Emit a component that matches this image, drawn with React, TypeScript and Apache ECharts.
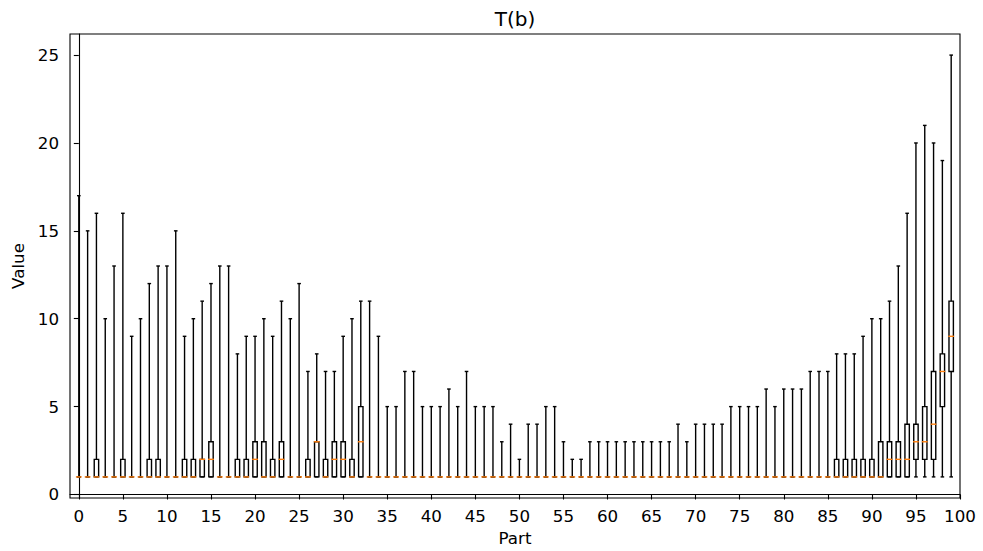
import React, { useEffect, useRef } from "react";
import * as echarts from "echarts";

const title = "T(b)";
const xName = "Part";
const yName = "Value";

const parts: number[] = [
  0, 1, 2, 3, 4, 5, 6, 7, 8, 9, 10, 11, 12, 13, 14, 15, 16, 17, 18, 19,
  20, 21, 22, 23, 24, 25, 26, 27, 28, 29, 30, 31, 32, 33, 34, 35, 36, 37, 38, 39,
  40, 41, 42, 43, 44, 45, 46, 47, 48, 49, 50, 51, 52, 53, 54, 55, 56, 57, 58, 59,
  60, 61, 62, 63, 64, 65, 66, 67, 68, 69, 70, 71, 72, 73, 74, 75, 76, 77, 78, 79,
  80, 81, 82, 83, 84, 85, 86, 87, 88, 89, 90, 91, 92, 93, 94, 95, 96, 97, 98, 99,
];

const whiskerLow: number[] = [
  1, 1, 1, 1, 1, 1, 1, 1, 1, 1, 1, 1, 1, 1, 1, 1, 1, 1, 1, 1,
  1, 1, 1, 1, 1, 1, 1, 1, 1, 1, 1, 1, 1, 1, 1, 1, 1, 1, 1, 1,
  1, 1, 1, 1, 1, 1, 1, 1, 1, 1, 1, 1, 1, 1, 1, 1, 1, 1, 1, 1,
  1, 1, 1, 1, 1, 1, 1, 1, 1, 1, 1, 1, 1, 1, 1, 1, 1, 1, 1, 1,
  1, 1, 1, 1, 1, 1, 1, 1, 1, 1, 1, 1, 1, 1, 1, 1, 1, 1, 1, 1,
];

const q1: number[] = [
  1, 1, 1, 1, 1, 1, 1, 1, 1, 1, 1, 1, 1, 1, 1, 1, 1, 1, 1, 1,
  1, 1, 1, 1, 1, 1, 1, 1, 1, 1, 1, 1, 1, 1, 1, 1, 1, 1, 1, 1,
  1, 1, 1, 1, 1, 1, 1, 1, 1, 1, 1, 1, 1, 1, 1, 1, 1, 1, 1, 1,
  1, 1, 1, 1, 1, 1, 1, 1, 1, 1, 1, 1, 1, 1, 1, 1, 1, 1, 1, 1,
  1, 1, 1, 1, 1, 1, 1, 1, 1, 1, 1, 1, 1, 1, 1, 2, 2, 2, 5, 7,
];

const medians: number[] = [
  1, 1, 1, 1, 1, 1, 1, 1, 1, 1, 1, 1, 1, 1, 2, 2, 1, 1, 1, 1,
  2, 1, 1, 2, 1, 1, 1, 3, 1, 2, 2, 1, 3, 1, 1, 1, 1, 1, 1, 1,
  1, 1, 1, 1, 1, 1, 1, 1, 1, 1, 1, 1, 1, 1, 1, 1, 1, 1, 1, 1,
  1, 1, 1, 1, 1, 1, 1, 1, 1, 1, 1, 1, 1, 1, 1, 1, 1, 1, 1, 1,
  1, 1, 1, 1, 1, 1, 1, 1, 1, 1, 1, 1, 2, 2, 2, 3, 3, 4, 7, 9,
];

const q3: number[] = [
  1, 1, 2, 1, 1, 2, 1, 1, 2, 2, 1, 1, 2, 2, 2, 3, 1, 1, 2, 2,
  3, 3, 2, 3, 1, 1, 2, 3, 2, 3, 3, 2, 5, 1, 1, 1, 1, 1, 1, 1,
  1, 1, 1, 1, 1, 1, 1, 1, 1, 1, 1, 1, 1, 1, 1, 1, 1, 1, 1, 1,
  1, 1, 1, 1, 1, 1, 1, 1, 1, 1, 1, 1, 1, 1, 1, 1, 1, 1, 1, 1,
  1, 1, 1, 1, 1, 1, 2, 2, 2, 2, 2, 3, 3, 3, 4, 4, 5, 7, 8, 11,
];

const whiskerHigh: number[] = [
  17, 15, 16, 10, 13, 16, 9, 10, 12, 13, 13, 15, 9, 10, 11, 12, 13, 13, 8, 9,
  9, 10, 9, 11, 10, 12, 7, 8, 7, 7, 9, 10, 11, 11, 9, 5, 5, 7, 7, 5,
  5, 5, 6, 5, 7, 5, 5, 5, 3, 4, 2, 4, 4, 5, 5, 3, 2, 2, 3, 3,
  3, 3, 3, 3, 3, 3, 3, 3, 4, 3, 4, 4, 4, 4, 5, 5, 5, 5, 6, 5,
  6, 6, 6, 7, 7, 7, 8, 8, 8, 9, 10, 10, 11, 13, 16, 20, 21, 20, 19, 25,
];

const xTicks: number[] = [0, 5, 10, 15, 20, 25, 30, 35, 40, 45, 50, 55, 60, 65, 70, 75, 80, 85, 90, 95, 100];
const yTicks: number[] = [0, 5, 10, 15, 20, 25];

const FONT = "DejaVu Sans";

export default function App() {
  const ref = useRef<HTMLDivElement>(null);

  useEffect(() => {
    if (!ref.current) return;
    const chart = echarts.init(ref.current, undefined, { renderer: "svg" });

    const data = parts.map((p, i) => [p, whiskerLow[i], q1[i], medians[i], q3[i], whiskerHigh[i]]);

    const lineW = 1.4;

    const option: any = {
      animation: false,
      backgroundColor: "#ffffff",
      textStyle: { fontFamily: FONT },
      grid: {
        left: 70,
        right: 23,
        top: 34,
        bottom: 51,
        show: true,
        borderColor: "#000000",
        borderWidth: 1.1,
        backgroundColor: "transparent",
        containLabel: false,
      },
      graphic: [
        {
          type: "text",
          x: 515,
          y: 19,
          style: {
            text: title,
            fontFamily: FONT,
            fontSize: 20,
            fill: "#000000",
            textAlign: "center",
            textVerticalAlign: "middle",
          },
        },
      ],
      xAxis: {
        type: "value",
        min: -1,
        max: 100,
        name: xName,
        nameLocation: "middle",
        nameGap: 31,
        nameTextStyle: { fontFamily: FONT, fontSize: 16.7, color: "#000000" },
        splitLine: { show: false },
        axisLine: { show: true, lineStyle: { color: "#000000", width: 1.1 } },
        axisTick: {
          show: true,
          length: 5,
          inside: false,
          customValues: xTicks,
          lineStyle: { color: "#000000", width: 1.1 },
        },
        axisLabel: {
          customValues: xTicks,
          margin: 9,
          fontFamily: FONT,
          fontSize: 16.7,
          color: "#000000",
        },
      },
      yAxis: {
        type: "value",
        min: -0.2,
        max: 26.2,
        name: yName,
        nameLocation: "middle",
        nameGap: 40,
        nameRotate: 90,
        nameTextStyle: { fontFamily: FONT, fontSize: 16.7, color: "#000000" },
        splitLine: { show: false },
        axisLine: { show: true, lineStyle: { color: "#000000", width: 1.1 } },
        axisTick: {
          show: true,
          length: 5,
          inside: false,
          customValues: yTicks,
          lineStyle: { color: "#000000", width: 1.1 },
        },
        axisLabel: {
          customValues: yTicks,
          margin: 11,
          fontFamily: FONT,
          fontSize: 16.7,
          color: "#000000",
        },
      },
      series: [
        {
          type: "custom",
          data,
          encode: { x: 0, y: [1, 2, 3, 4, 5] },
          clip: false,
          renderItem: (params: any, api: any) => {
            const x = api.value(0);
            const lo = api.value(1);
            const b1 = api.value(2);
            const md = api.value(3);
            const b3 = api.value(4);
            const hi = api.value(5);
            const pLo = api.coord([x, lo]);
            const pQ1 = api.coord([x, b1]);
            const pMd = api.coord([x, md]);
            const pQ3 = api.coord([x, b3]);
            const pHi = api.coord([x, hi]);
            const cx = pLo[0];
            const halfW = api.size([0.5, 0])[0] / 2;
            const capHalf = halfW / 2 + lineW / 2;
            const black = { stroke: "#000000", lineWidth: lineW, fill: "none" };
            const medHalf = halfW + lineW / 2;
            const children: any[] = [
              {
                type: "line",
                shape: { x1: cx, y1: pQ3[1], x2: cx, y2: pHi[1] },
                style: black,
              },
              {
                type: "line",
                shape: { x1: cx, y1: pQ1[1], x2: cx, y2: pLo[1] },
                style: black,
              },
              {
                type: "line",
                shape: { x1: cx - capHalf, y1: pHi[1], x2: cx + capHalf, y2: pHi[1] },
                style: black,
              },
              {
                type: "line",
                shape: { x1: cx - capHalf, y1: pLo[1], x2: cx + capHalf, y2: pLo[1] },
                style: black,
              },
            ];
            if (pQ1[1] - pQ3[1] > 0.5) {
              children.push({
                type: "rect",
                shape: { x: cx - halfW, y: pQ3[1], width: halfW * 2, height: pQ1[1] - pQ3[1] },
                style: { stroke: "#000000", lineWidth: lineW, fill: "none" },
              });
            } else {
              children.push({
                type: "line",
                shape: { x1: cx - halfW, y1: pQ1[1], x2: cx + halfW, y2: pQ1[1] },
                style: black,
              });
            }
            children.push({
              type: "line",
              shape: { x1: cx - medHalf, y1: pMd[1], x2: cx + medHalf, y2: pMd[1] },
              style: { stroke: "#ff7f0e", lineWidth: lineW },
            });
            return { type: "group", children };
          },
        },
      ],
    };

    chart.setOption(option);
    return () => {
      chart.dispose();
    };
  }, []);

  return (
    <div
      ref={ref}
      style={{ position: "fixed", left: 0, top: 0, width: 983, height: 551, background: "#ffffff" }}
    />
  );
}
